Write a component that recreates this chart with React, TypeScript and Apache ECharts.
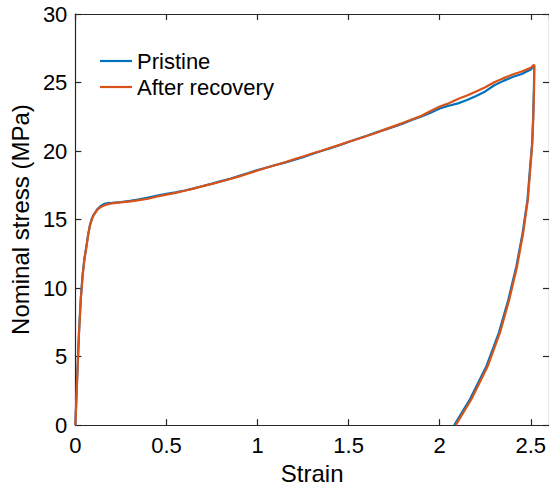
import React, { useEffect, useRef } from "react";
import * as echarts from "echarts";

// Loading branch (shared strain values)
const loadStrain = [
  0, 0.01, 0.02, 0.03, 0.04, 0.05, 0.06, 0.07, 0.08, 0.09, 0.1, 0.12, 0.14, 0.16, 0.18, 0.2,
  0.25, 0.3, 0.35, 0.4, 0.45, 0.5, 0.55, 0.6, 0.65, 0.7, 0.75, 0.8, 0.85, 0.9, 0.95, 1.0,
  1.05, 1.1, 1.15, 1.2, 1.25, 1.3, 1.35, 1.4, 1.45, 1.5, 1.55, 1.6, 1.65, 1.7, 1.75, 1.8,
  1.85, 1.9, 1.95, 2.0, 2.05, 2.1, 2.15, 2.2, 2.25, 2.3, 2.35, 2.4, 2.45, 2.5, 2.519,
];
const pristineLoadStress = [
  0, 3.5, 6.8, 9.3, 11.0, 12.2, 13.0, 13.9, 14.6, 15.05, 15.35, 15.75, 16.0, 16.15, 16.2, 16.22,
  16.28, 16.36, 16.47, 16.6, 16.75, 16.88, 16.98, 17.12, 17.28, 17.45, 17.62, 17.8, 17.98, 18.2, 18.4, 18.62,
  18.8, 18.98, 19.15, 19.35, 19.55, 19.78, 20.0, 20.2, 20.42, 20.66, 20.9, 21.12, 21.35, 21.56, 21.78, 22.02,
  22.28, 22.52, 22.8, 23.1, 23.3, 23.48, 23.72, 24.02, 24.35, 24.8, 25.12, 25.4, 25.62, 25.95, 26.25,
];
const recoveryLoadStress = [
  0, 3.4, 6.7, 9.2, 10.9, 12.1, 12.95, 13.85, 14.55, 15.0, 15.3, 15.7, 15.92, 16.05, 16.12, 16.18,
  16.25, 16.32, 16.42, 16.52, 16.68, 16.82, 16.95, 17.1, 17.26, 17.44, 17.6, 17.78, 17.96, 18.15, 18.36, 18.58,
  18.78, 18.98, 19.18, 19.4, 19.6, 19.82, 20.02, 20.24, 20.45, 20.68, 20.88, 21.1, 21.32, 21.58, 21.82, 22.06,
  22.32, 22.58, 22.92, 23.25, 23.48, 23.8, 24.05, 24.35, 24.65, 25.02, 25.32, 25.58, 25.8, 26.08, 26.3,
];

// Unloading branch (shared stress values)
const unloadStress = [26.28, 24.5, 22.5, 20.5, 18.8, 16.45, 14.0, 11.6, 9.17, 6.75, 4.32, 1.89, 0];
const pristineUnloadStrain = [2.519, 2.517, 2.513, 2.507, 2.496, 2.482, 2.455, 2.421, 2.377, 2.325, 2.257, 2.166, 2.08];
const recoveryUnloadStrain = [2.519, 2.518, 2.514, 2.508, 2.498, 2.484, 2.458, 2.425, 2.382, 2.331, 2.264, 2.174, 2.088];

const xTicks = { min: 0, max: 2.6, interval: 0.5 };
const yTicks = { min: 0, max: 30, interval: 5 };

const seriesNames = ["Pristine", "After recovery"];
const colors = ["#0072BD", "#D95319"];

function build(xs: number[], ys: number[], uxs: number[], uys: number[]) {
  const d: number[][] = xs.map((x, i) => [x, ys[i]]);
  uxs.forEach((x, i) => {
    if (i > 0) d.push([x, uys[i]]);
  });
  return d;
}

export default function App() {
  const ref = useRef<HTMLDivElement>(null);
  useEffect(() => {
    if (!ref.current) return;
    const chart = echarts.init(ref.current, undefined, { renderer: "svg" });
    const font = "'Liberation Sans', Arial, Helvetica, sans-serif";
    const axisColor = "#262626";
    const common = {
      axisLine: { show: true, onZero: false, lineStyle: { color: axisColor, width: 1.2 } },
      axisTick: { show: true, inside: true, length: 6, lineStyle: { color: axisColor, width: 1.2 } },
      splitLine: { show: false },
    };
    chart.setOption({
      animation: false,
      textStyle: { fontFamily: font },
      grid: { left: 72, top: 14, width: 477, height: 412, containLabel: false },
      legend: {
        orient: "vertical",
        left: 100,
        top: 50,
        padding: 0,
        icon: "rect",
        itemWidth: 32,
        itemHeight: 2.2,
        itemGap: 4,
        textStyle: { fontSize: 22, color: "#000", fontFamily: font },
        data: seriesNames,
      },
      xAxis: [
        {
          type: "value",
          ...xTicks,
          ...common,
          axisLabel: {
            fontSize: 22,
            color: "#000",
            margin: 9,
            showMaxLabel: false,
            fontFamily: font,
          },
          name: "Strain",
          nameLocation: "middle",
          nameGap: 35,
          nameTextStyle: { fontSize: 24, color: "#000", fontFamily: font },
        },
        {
          type: "value",
          position: "top",
          ...xTicks,
          ...common,
          axisLabel: { show: false },
        },
      ],
      yAxis: [
        {
          type: "value",
          ...yTicks,
          ...common,
          axisLabel: { fontSize: 22, color: "#000", margin: 8, fontFamily: font },
          name: "Nominal stress (MPa)",
          nameLocation: "middle",
          nameGap: 38,
          nameTextStyle: { fontSize: 24, color: "#000", fontFamily: font },
        },
        {
          type: "value",
          position: "right",
          ...yTicks,
          ...common,
          axisLabel: { show: false },
        },
      ],
      series: [
        {
          name: seriesNames[0],
          type: "line",
          symbol: "none",
          data: build(loadStrain, pristineLoadStress, pristineUnloadStrain, unloadStress),
          lineStyle: { color: colors[0], width: 2.2 },
          itemStyle: { color: colors[0] },
        },
        {
          name: seriesNames[1],
          type: "line",
          symbol: "none",
          data: build(loadStrain, recoveryLoadStress, recoveryUnloadStrain, unloadStress),
          lineStyle: { color: colors[1], width: 2.2 },
          itemStyle: { color: colors[1] },
        },
      ],
    });
    return () => chart.dispose();
  }, []);
  return (
    <div
      ref={ref}
      style={{ position: "absolute", left: 0, top: 0, width: 549, height: 490, background: "#fff" }}
    />
  );
}
